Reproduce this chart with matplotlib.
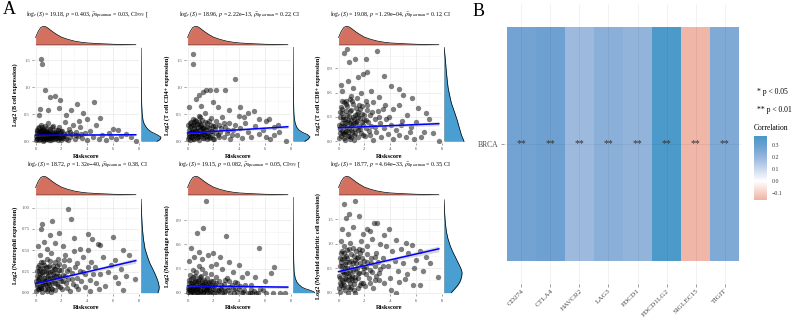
import numpy as np
import matplotlib
matplotlib.use("Agg")
import matplotlib.pyplot as plt
from matplotlib.colors import LinearSegmentedColormap, Normalize
from matplotlib.cm import ScalarMappable

plt.rcParams["font.family"] = ["Liberation Serif", "DejaVu Serif"]
plt.rcParams["mathtext.fontset"] = "stix"

# ---------------- panel A data ----------------
b_cell = [(0.44, 1.52), (0.49, 1.44), (0.70, 0.95), (1.14, 0.83), (1.47, 0.84), (1.91, 0.77), (1.81, 0.62),
          (0.36, 0.61), (1.00, 0.59), (3.20, 0.69), (4.49, 0.74), (2.76, 0.58), (0.23, 0.49), (2.37, 0.49),
          (3.66, 0.52), (4.95, 0.44), (4.00, 0.42), (3.35, 0.38), (6.37, 0.22), (7.75, 0.00), (7.00, 0.13),
          (5.70, 0.16), (6.00, 0.24), (7.40, 0.08),
          (0.03, 0.02), (0.08, 0.15), (0.12, 0.07), (0.18, 0.25), (0.22, 0.11), (0.27, 0.03), (0.31, 0.19),
          (0.36, 0.09), (0.40, 0.31), (0.44, 0.14), (0.48, 0.05), (0.53, 0.22), (0.57, 0.10), (0.61, 0.01),
          (0.65, 0.17), (0.70, 0.28), (0.73, 0.07), (0.78, 0.13), (0.83, 0.20), (0.87, 0.04), (0.92, 0.11),
          (0.96, 0.34), (1.01, 0.16), (1.05, 0.06), (1.10, 0.24), (1.15, 0.12), (1.20, 0.02), (1.26, 0.18),
          (1.31, 0.08), (1.37, 0.29), (1.42, 0.14), (1.49, 0.04), (1.55, 0.21), (1.61, 0.10), (1.68, 0.16),
          (1.75, 0.03), (1.82, 0.26), (1.90, 0.12), (1.98, 0.07), (2.06, 0.19), (2.15, 0.10), (2.24, 0.36),
          (2.33, 0.05), (2.43, 0.15), (2.55, 0.24), (2.66, 0.08), (2.78, 0.13), (2.90, 0.31), (3.02, 0.04),
          (3.15, 0.18), (3.30, 0.10), (3.46, 0.27), (3.62, 0.06), (3.80, 0.15), (4.00, 0.03), (4.20, 0.20),
          (4.42, 0.09), (4.65, 0.30), (4.90, 0.05), (5.15, 0.12), (5.45, 0.02), (5.80, 0.09), (6.20, 0.04),
          (6.60, 0.11), (0.15, 0.04), (0.25, 0.17), (0.33, 0.12), (0.46, 0.21), (0.55, 0.06), (0.63, 0.12),
          (0.68, 0.02), (0.76, 0.19), (0.85, 0.09), (0.94, 0.15), (1.03, 0.03), (1.12, 0.19), (1.23, 0.10),
          (1.33, 0.15), (1.45, 0.08), (1.58, 0.13), (1.72, 0.09), (1.86, 0.17), (2.00, 0.02), (2.20, 0.14),
          (0.10, 0.22), (0.50, 0.27), (0.90, 0.25), (1.25, 0.26), (1.70, 0.22)]
b_cell_core = [(0.06, 0.10), (0.14, 0.19), (0.24, 0.08), (0.29, 0.27), (0.38, 0.04), (0.42, 0.18), (0.52, 0.13),
               (0.60, 0.24), (0.71, 0.16), (0.80, 0.05), (0.89, 0.18), (0.99, 0.09), (1.07, 0.14), (1.17, 0.07),
               (1.28, 0.12), (1.36, 0.05), (1.47, 0.17), (1.57, 0.06), (1.66, 0.12), (1.80, 0.07), (1.94, 0.20),
               (2.10, 0.06), (2.28, 0.10), (2.50, 0.03), (2.70, 0.18), (3.10, 0.12), (3.55, 0.14)]

cd4 = [(0.44, 1.62), (0.39, 1.44), (3.69, 1.16), (1.42, 0.96), (1.73, 0.96), (1.21, 0.91), (0.90, 0.86),
       (2.19, 0.96), (2.86, 0.96), (0.65, 0.78), (1.94, 0.73), (0.13, 0.63), (1.03, 0.66), (2.32, 0.64),
       (3.23, 0.58), (4.05, 0.63), (4.65, 0.53), (5.10, 0.56), (3.95, 0.47), (4.40, 0.45), (5.55, 0.41),
       (6.06, 0.38), (6.28, 0.42), (6.72, 0.27), (6.72, 0.11), (7.10, 0.17), (7.63, 0.00), (6.08, 0.08),
       (0.03, 0.05), (0.08, 0.22), (0.12, 0.12), (0.17, 0.35), (0.21, 0.02), (0.26, 0.17), (0.30, 0.28),
       (0.35, 0.08), (0.39, 0.42), (0.43, 0.14), (0.47, 0.24), (0.52, 0.04), (0.56, 0.31), (0.60, 0.11),
       (0.64, 0.19), (0.69, 0.38), (0.73, 0.06), (0.78, 0.26), (0.82, 0.15), (0.87, 0.47), (0.91, 0.02),
       (0.96, 0.21), (1.00, 0.33), (1.05, 0.10), (1.10, 0.18), (1.15, 0.40), (1.20, 0.07), (1.26, 0.27),
       (1.31, 0.13), (1.37, 0.52), (1.42, 0.22), (1.48, 0.04), (1.54, 0.34), (1.60, 0.16), (1.67, 0.25),
       (1.74, 0.09), (1.81, 0.44), (1.89, 0.19), (1.97, 0.29), (2.05, 0.05), (2.14, 0.23), (2.23, 0.37),
       (2.33, 0.12), (2.43, 0.30), (2.54, 0.18), (2.66, 0.45), (2.78, 0.08), (2.90, 0.26), (3.03, 0.15),
       (3.17, 0.35), (3.32, 0.04), (3.48, 0.21), (3.65, 0.30), (3.83, 0.12), (4.02, 0.25), (4.22, 0.06),
       (4.44, 0.34), (4.68, 0.17), (4.93, 0.09), (5.20, 0.28), (5.50, 0.14), (5.85, 0.22), (6.40, 0.05),
       (7.00, 0.30), (0.10, 0.15), (0.20, 0.26), (0.32, 0.18), (0.45, 0.05), (0.58, 0.22), (0.66, 0.13),
       (0.75, 0.32), (0.84, 0.08), (0.93, 0.27), (1.08, 0.24), (1.18, 0.14), (1.29, 0.20), (1.40, 0.10),
       (1.52, 0.26), (1.65, 0.07), (1.78, 0.30), (1.92, 0.12), (2.10, 0.28), (0.50, 0.36), (1.00, 0.45)]
cd4_core = [(0.06, 0.30), (0.14, 0.08), (0.24, 0.10), (0.29, 0.36), (0.38, 0.20), (0.42, 0.30), (0.52, 0.16),
            (0.60, 0.40), (0.71, 0.20), (0.80, 0.10), (0.89, 0.36), (0.99, 0.14), (1.07, 0.30), (1.17, 0.24),
            (1.28, 0.06), (1.36, 0.36), (1.47, 0.16), (1.57, 0.10), (1.66, 0.38), (1.80, 0.20), (1.94, 0.04),
            (2.20, 0.16), (2.40, 0.08), (2.60, 0.24), (2.85, 0.34), (3.10, 0.22), (3.40, 0.12)]

cd8 = [(0.62, 1.14), (0.44, 1.09), (2.95, 1.12), (1.29, 1.01), (0.83, 0.98), (2.12, 1.02), (1.91, 0.83),
       (2.17, 0.86), (1.50, 0.79), (3.54, 0.80), (0.70, 0.74), (0.19, 0.69), (4.06, 0.68), (4.70, 0.65),
       (5.00, 0.57), (5.69, 0.54), (4.65, 0.45), (6.12, 0.41), (6.77, 0.35), (7.03, 0.27), (6.00, 0.24),
       (6.57, 0.12), (7.29, 0.10), (7.75, 0.00), (6.40, 0.05),
       (0.30, 0.62), (1.10, 0.66), (1.75, 0.60), (2.50, 0.62), (3.10, 0.55), (2.70, 0.48), (3.60, 0.45),
       (0.95, 0.56), (1.40, 0.53), (0.55, 0.50), (2.10, 0.50), (4.20, 0.40), (3.90, 0.30), (5.30, 0.33),
       (5.60, 0.18), (4.80, 0.20),
       (0.03, 0.04), (0.08, 0.30), (0.12, 0.15), (0.17, 0.42), (0.21, 0.07), (0.26, 0.23), (0.30, 0.35),
       (0.35, 0.10), (0.39, 0.48), (0.43, 0.19), (0.47, 0.28), (0.52, 0.02), (0.56, 0.38), (0.60, 0.13),
       (0.64, 0.24), (0.69, 0.44), (0.73, 0.06), (0.78, 0.31), (0.82, 0.17), (0.87, 0.52), (0.91, 0.03),
       (0.96, 0.26), (1.00, 0.39), (1.05, 0.12), (1.10, 0.21), (1.15, 0.46), (1.20, 0.08), (1.26, 0.33),
       (1.31, 0.15), (1.37, 0.41), (1.42, 0.25), (1.48, 0.05), (1.54, 0.36), (1.60, 0.19), (1.67, 0.29),
       (1.74, 0.10), (1.81, 0.43), (1.89, 0.20), (1.97, 0.33), (2.05, 0.06), (2.14, 0.26), (2.23, 0.39),
       (2.33, 0.13), (2.43, 0.32), (2.54, 0.19), (2.66, 0.02), (2.78, 0.28), (2.90, 0.12), (3.03, 0.37),
       (3.17, 0.22), (3.32, 0.05), (3.48, 0.17), (3.65, 0.27), (3.83, 0.09), (4.02, 0.20), (4.22, 0.03),
       (4.44, 0.14), (4.68, 0.08), (4.93, 0.25), (5.20, 0.05), (5.50, 0.11), (5.85, 0.03),
       (0.10, 0.10), (0.20, 0.19), (0.33, 0.27), (0.45, 0.09), (0.58, 0.18), (0.67, 0.33), (0.76, 0.12),
       (0.85, 0.22), (0.94, 0.14), (1.08, 0.30), (1.18, 0.02), (1.29, 0.22), (1.40, 0.34), (1.52, 0.14),
       (1.65, 0.40), (1.78, 0.24), (1.92, 0.08), (2.10, 0.17), (0.50, 0.12), (1.00, 0.05), (2.30, 0.24),
       (0.25, 0.40)]
cd8_core = [(0.06, 0.20), (0.14, 0.36), (0.24, 0.13), (0.29, 0.50), (0.38, 0.30), (0.42, 0.04), (0.52, 0.22),
            (0.60, 0.46), (0.71, 0.26), (0.80, 0.07), (0.89, 0.38), (0.99, 0.20), (1.07, 0.50), (1.17, 0.28),
            (1.28, 0.10), (1.36, 0.24), (1.47, 0.30), (1.57, 0.45), (1.66, 0.15), (1.80, 0.34), (1.94, 0.26),
            (2.20, 0.45), (2.40, 0.08), (2.60, 0.36), (2.85, 0.18), (3.10, 0.30), (3.40, 0.40)]

neutrophil = [(2.50, 0.99), (2.77, 0.87), (1.29, 0.84), (0.49, 0.81), (0.44, 0.75), (1.09, 0.68), (1.81, 0.70),
              (4.06, 0.69), (3.00, 0.64), (5.99, 0.65), (4.40, 0.63), (4.83, 0.57), (4.96, 0.56), (4.05, 0.50),
              (2.95, 0.49), (6.77, 0.50), (7.23, 0.45), (6.12, 0.39), (7.67, 0.16), (6.12, 0.19), (5.60, 0.25),
              (6.38, 0.12), (6.77, 0.03),
              (0.20, 0.55), (0.65, 0.60), (0.90, 0.52), (1.50, 0.58), (1.20, 0.47), (2.10, 0.55), (2.30, 0.44),
              (3.40, 0.52), (3.70, 0.42), (2.60, 0.38), (3.20, 0.35), (4.30, 0.36), (4.60, 0.30), (5.20, 0.42),
              (5.00, 0.22), (5.80, 0.33), (5.40, 0.08), (4.20, 0.15), (3.80, 0.22), (6.60, 0.28), (7.00, 0.20),
              (0.35, 0.45), (1.70, 0.40),
              (0.03, 0.02), (0.08, 0.20), (0.12, 0.10), (0.17, 0.30), (0.21, 0.05), (0.26, 0.16), (0.30, 0.26),
              (0.35, 0.07), (0.39, 0.36), (0.43, 0.13), (0.47, 0.21), (0.52, 0.01), (0.56, 0.29), (0.60, 0.10),
              (0.64, 0.18), (0.69, 0.33), (0.73, 0.04), (0.78, 0.24), (0.82, 0.14), (0.87, 0.40), (0.91, 0.02),
              (0.96, 0.20), (1.00, 0.30), (1.05, 0.09), (1.10, 0.17), (1.15, 0.37), (1.20, 0.06), (1.26, 0.26),
              (1.31, 0.12), (1.37, 0.32), (1.42, 0.20), (1.48, 0.03), (1.54, 0.28), (1.60, 0.15), (1.67, 0.23),
              (1.74, 0.08), (1.81, 0.34), (1.89, 0.17), (1.97, 0.27), (2.05, 0.05), (2.14, 0.21), (2.23, 0.31),
              (2.33, 0.11), (2.43, 0.26), (2.54, 0.16), (2.66, 0.02), (2.78, 0.23), (2.90, 0.10), (3.03, 0.30),
              (3.17, 0.18), (3.32, 0.04), (3.48, 0.14), (3.65, 0.24), (3.83, 0.07), (4.02, 0.30), (4.22, 0.02),
              (4.44, 0.22), (4.68, 0.12), (4.93, 0.05),
              (0.10, 0.08), (0.20, 0.15), (0.33, 0.22), (0.45, 0.06), (0.58, 0.15), (0.67, 0.26), (0.76, 0.10),
              (0.85, 0.19), (0.94, 0.12), (1.08, 0.25), (1.18, 0.01), (1.29, 0.18), (1.40, 0.28), (1.52, 0.12),
              (1.65, 0.32), (1.78, 0.20), (1.92, 0.07), (2.10, 0.14), (0.50, 0.10), (1.00, 0.04), (2.30, 0.20),
              (0.25, 0.33)]
neutrophil_core = [(0.06, 0.14), (0.14, 0.26), (0.24, 0.04), (0.29, 0.19), (0.38, 0.28), (0.42, 0.06),
                   (0.52, 0.25), (0.60, 0.36), (0.71, 0.14), (0.80, 0.30), (0.89, 0.08), (0.99, 0.24),
                   (1.07, 0.32), (1.17, 0.14), (1.28, 0.04), (1.36, 0.22), (1.47, 0.36), (1.57, 0.20),
                   (1.66, 0.10), (1.80, 0.27), (1.94, 0.14), (2.20, 0.38), (2.40, 0.06), (2.60, 0.28),
                   (2.85, 0.16), (3.10, 0.08), (3.40, 0.26)]

macrophage = [(1.43, 1.14), (1.22, 0.81), (0.70, 0.74), (2.98, 0.70), (5.50, 0.55), (0.30, 0.56), (0.90, 0.51),
              (1.94, 0.49), (2.50, 0.44), (3.20, 0.38), (3.98, 0.35), (4.56, 0.25), (5.20, 0.19), (5.97, 0.15),
              (6.72, 0.32), (6.46, 0.24), (6.08, 0.00), (6.59, 0.00), (7.16, 0.00), (7.57, 0.00),
              (0.50, 0.45), (1.10, 0.42), (1.60, 0.47), (0.15, 0.40), (2.20, 0.36), (1.80, 0.33), (2.70, 0.30),
              (3.50, 0.26), (4.20, 0.20), (4.90, 0.10), (5.60, 0.05), (3.80, 0.12), (2.90, 0.16), (4.40, 0.03),
              (5.00, 0.00), (5.30, 0.00), (5.80, 0.03),
              (0.03, 0.01), (0.08, 0.12), (0.12, 0.04), (0.17, 0.22), (0.21, 0.00), (0.26, 0.08), (0.30, 0.17),
              (0.35, 0.02), (0.39, 0.28), (0.43, 0.06), (0.47, 0.13), (0.52, 0.00), (0.56, 0.21), (0.60, 0.05),
              (0.64, 0.10), (0.69, 0.26), (0.73, 0.01), (0.78, 0.15), (0.82, 0.07), (0.87, 0.33), (0.91, 0.00),
              (0.96, 0.12), (1.00, 0.20), (1.05, 0.03), (1.10, 0.09), (1.15, 0.29), (1.20, 0.01), (1.26, 0.16),
              (1.31, 0.05), (1.37, 0.24), (1.42, 0.11), (1.48, 0.00), (1.54, 0.18), (1.60, 0.07), (1.67, 0.13),
              (1.74, 0.02), (1.81, 0.23), (1.89, 0.08), (1.97, 0.15), (2.05, 0.00), (2.14, 0.10), (2.23, 0.19),
              (2.33, 0.03), (2.43, 0.14), (2.54, 0.06), (2.66, 0.00), (2.78, 0.11), (2.90, 0.02), (3.03, 0.18),
              (3.17, 0.07), (3.32, 0.00), (3.48, 0.05), (3.65, 0.13), (3.83, 0.01), (4.02, 0.08), (4.22, 0.00),
              (4.44, 0.10), (4.68, 0.00), (4.93, 0.04), (0.10, 0.03), (0.20, 0.07), (0.33, 0.11), (0.45, 0.00),
              (0.58, 0.03), (0.67, 0.14), (0.76, 0.04), (0.85, 0.09), (0.94, 0.02), (1.08, 0.14), (1.18, 0.00),
              (1.29, 0.08), (1.40, 0.03), (1.52, 0.06), (1.65, 0.00), (1.78, 0.10), (1.92, 0.01), (2.10, 0.05),
              (2.30, 0.00), (2.60, 0.04), (2.85, 0.00), (3.10, 0.03), (3.40, 0.10), (3.60, 0.00), (3.95, 0.04),
              (4.30, 0.01), (4.80, 0.00), (5.10, 0.02), (5.45, 0.00)]
macrophage_core = [(0.06, 0.06), (0.14, 0.16), (0.24, 0.02), (0.29, 0.12), (0.38, 0.05), (0.42, 0.20),
                   (0.52, 0.08), (0.60, 0.15), (0.71, 0.06), (0.80, 0.00), (0.89, 0.17), (0.99, 0.06),
                   (1.07, 0.21), (1.17, 0.10), (1.28, 0.02), (1.36, 0.13), (1.47, 0.05), (1.57, 0.12),
                   (1.66, 0.04), (1.80, 0.15), (1.94, 0.05), (2.20, 0.12), (2.40, 0.02), (2.60, 0.09),
                   (2.85, 0.06), (3.20, 0.14), (3.70, 0.06)]

myeloid_dc = [(0.44, 1.82), (1.29, 1.88), (0.83, 1.60), (0.60, 1.53), (1.60, 1.56), (2.77, 1.42), (3.00, 1.43),
              (2.20, 1.30), (2.40, 1.25), (4.45, 1.08), (5.22, 1.01), (5.70, 0.98), (3.50, 1.18), (3.90, 1.30),
              (6.77, 0.73), (6.00, 0.67), (7.67, 0.33), (6.26, 0.16), (5.74, 0.16), (4.70, 0.22), (5.30, 0.39),
              (4.06, 0.05), (4.45, 0.00),
              (1.10, 1.35), (1.90, 1.20), (0.30, 1.30), (2.60, 1.10), (3.20, 1.00), (3.70, 0.95), (4.10, 0.85),
              (4.80, 0.90), (5.40, 0.80), (6.30, 0.85), (4.40, 0.65), (5.00, 0.60), (5.80, 0.50), (3.40, 0.70),
              (2.90, 0.80), (3.80, 0.55), (4.60, 0.45), (2.50, 0.60), (3.10, 0.40), (4.00, 0.30), (5.10, 0.28),
              (6.50, 0.45), (7.10, 0.60), (3.50, 0.20), (2.80, 0.25), (2.20, 0.95), (1.70, 1.05), (0.70, 1.20),
              (0.20, 1.05),
              (0.03, 0.10), (0.08, 0.55), (0.12, 0.30), (0.17, 0.80), (0.21, 0.15), (0.26, 0.45), (0.30, 0.68),
              (0.35, 0.22), (0.39, 0.95), (0.43, 0.38), (0.47, 0.58), (0.52, 0.05), (0.56, 0.75), (0.60, 0.28),
              (0.64, 0.50), (0.69, 0.88), (0.73, 0.12), (0.78, 0.62), (0.82, 0.35), (0.87, 1.02), (0.91, 0.08),
              (0.96, 0.52), (1.00, 0.78), (1.05, 0.25), (1.10, 0.44), (1.15, 0.92), (1.20, 0.18), (1.26, 0.66),
              (1.31, 0.33), (1.37, 0.85), (1.42, 0.50), (1.48, 0.10), (1.54, 0.72), (1.60, 0.40), (1.67, 0.60),
              (1.74, 0.20), (1.81, 0.88), (1.89, 0.42), (1.97, 0.65), (2.05, 0.14), (2.14, 0.52), (2.23, 0.78),
              (2.33, 0.30), (2.43, 0.46), (2.54, 0.70), (2.66, 0.10), (2.78, 0.55), (2.90, 0.35), (3.03, 0.62),
              (3.17, 0.48),
              (0.10, 0.20), (0.20, 0.62), (0.33, 0.42), (0.45, 0.15), (0.58, 0.40), (0.67, 0.70), (0.76, 0.25),
              (0.85, 0.45), (0.94, 0.30), (1.08, 0.60), (1.18, 0.05), (1.29, 0.48), (1.40, 0.70), (1.52, 0.30),
              (1.65, 0.82), (1.78, 0.55), (1.92, 0.20), (2.10, 0.38), (0.50, 0.30), (1.00, 0.12), (0.25, 0.85),
              (0.15, 0.02), (0.70, 0.00), (1.30, 0.00), (0.40, 0.70)]
myeloid_dc_core = [(0.06, 0.35), (0.14, 0.70), (0.24, 0.25), (0.29, 0.55), (0.38, 0.12), (0.42, 0.82),
                   (0.52, 0.50), (0.60, 0.62), (0.71, 0.40), (0.80, 0.90), (0.89, 0.20), (0.99, 0.65),
                   (1.07, 0.35), (1.17, 0.75), (1.28, 0.25), (1.36, 0.60), (1.47, 0.40), (1.57, 0.90),
                   (1.66, 0.15), (1.80, 0.70), (1.94, 0.50), (2.20, 0.62), (2.40, 0.20), (2.60, 0.42),
                   (2.85, 0.72), (3.10, 0.25), (3.40, 0.55)]

# marginal density of Riskscore (same in every panel), relative height
risk_grid = [0.0, 0.2, 0.4, 0.6, 0.8, 1.0, 1.3, 1.6, 2.0, 2.5, 3.0, 3.5, 4.0, 5.0, 6.0, 7.0, 7.75]
risk_dens = [0.40, 0.72, 0.93, 1.00, 0.97, 0.88, 0.72, 0.58, 0.42, 0.30, 0.21, 0.15, 0.11, 0.07, 0.04, 0.02, 0.01]

# marginal densities of each expression, relative height
b_grid = [0.0, 0.03, 0.07, 0.11, 0.16, 0.20, 0.24, 0.29, 0.35, 0.45, 0.6, 0.8, 1.0, 1.3, 1.55]
b_dens = [0.8, 0.95, 1.0, 0.8, 0.5, 0.35, 0.25, 0.16, 0.1, 0.06, 0.035, 0.02, 0.012, 0.006, 0.0]
cd4_grid = [0.0, 0.04, 0.08, 0.12, 0.16, 0.2, 0.25, 0.32, 0.4, 0.5, 0.7, 1.0, 1.3, 1.66]
cd4_dens = [0.7, 0.9, 1.0, 0.85, 0.55, 0.35, 0.22, 0.13, 0.08, 0.05, 0.03, 0.015, 0.008, 0.0]
cd8_grid = [0.0, 0.03, 0.07, 0.12, 0.18, 0.26, 0.35, 0.47, 0.58, 0.67, 0.78, 0.88, 1.0, 1.1, 1.16]
cd8_dens = [1.0, 0.95, 0.88, 0.82, 0.75, 0.66, 0.54, 0.37, 0.27, 0.2, 0.15, 0.11, 0.07, 0.03, 0.0]
neu_grid = [0.0, 0.03, 0.06, 0.11, 0.16, 0.21, 0.26, 0.31, 0.36, 0.42, 0.47, 0.58, 0.7, 0.85, 1.0]
neu_dens = [0.93, 0.98, 1.0, 0.95, 0.86, 0.75, 0.63, 0.5, 0.4, 0.3, 0.22, 0.13, 0.07, 0.03, 0.0]
mac_grid = [0.0, 0.015, 0.03, 0.05, 0.07, 0.1, 0.13, 0.18, 0.26, 0.4, 0.6, 0.9, 1.19]
mac_dens = [1.0, 0.92, 0.78, 0.55, 0.4, 0.27, 0.18, 0.1, 0.05, 0.03, 0.015, 0.006, 0.0]
mdc_grid = [0.0, 0.08, 0.15, 0.22, 0.29, 0.36, 0.42, 0.5, 0.63, 0.75, 0.83, 0.95, 1.1, 1.25, 1.44, 1.65, 1.9]
mdc_dens = [0.4, 0.6, 0.76, 0.88, 0.95, 0.99, 1.0, 0.93, 0.76, 0.6, 0.49, 0.35, 0.22, 0.13, 0.07, 0.03, 0.0]
dens_scale = [0.91, 0.77, 0.91, 0.83, 1.0, 0.82]

# fitted line (intercept, slope) and CI half-width at x = 0, 1.5, 7.75
fit_lines = [(0.115, 0.0013), (0.155, 0.015), (0.167, 0.0065), (0.107, 0.035), (0.085, -0.002), (0.43, 0.06)]
ci_x = [0.0, 1.5, 7.75]
ci_half = [[0.012, 0.006, 0.02], [0.015, 0.008, 0.03], [0.012, 0.007, 0.025],
           [0.012, 0.006, 0.03], [0.01, 0.005, 0.02], [0.025, 0.012, 0.06]]

ylabels = ["Log2 (B cell expression)", "Log2 (T cell CD4+ expression)", "Log2 (T cell CD8+ expression)",
           "Log2 (Neutrophil expression)", "Log2 (Macrophage expression)",
           "Log2 (Myeloid dendritic cell expression)"]
titles = [r"$\log_{e}(S)$ = 19.18, $p$ = 0.403, $\widehat{\rho}_{\rm Spearman}$ = 0.03, CI$_{95\%}$ [",
          r"$\log_{e}(S)$ = 18.96, $p$ = 2.22e$-$13, $\widehat{\rho}_{\rm Spearman}$ = 0.22, CI",
          r"$\log_{e}(S)$ = 19.08, $p$ = 1.29e$-$04, $\widehat{\rho}_{\rm Spearman}$ = 0.12, CI",
          r"$\log_{e}(S)$ = 18.72, $p$ = 1.32e$-$40, $\widehat{\rho}_{\rm Spearman}$ = 0.38, CI",
          r"$\log_{e}(S)$ = 19.15, $p$ = 0.082, $\widehat{\rho}_{\rm Spearman}$ = 0.05, CI$_{95\%}$ [",
          r"$\log_{e}(S)$ = 18.77, $p$ = 4.64e$-$33, $\widehat{\rho}_{\rm Spearman}$ = 0.35, CI"]
yticks = [[0.0, 0.5, 1.0, 1.5], [0.0, 0.5, 1.0, 1.5], [0.0, 0.3, 0.6, 0.9],
          [0.0, 0.25, 0.5, 0.75, 1.0], [0.0, 0.3, 0.6, 0.9], [0.0, 0.5, 1.0, 1.5]]
ytick_fmt = ["%.1f", "%.1f", "%.1f", "%.2f", "%.1f", "%.1f"]
ylims = [(-0.028, 1.57), (-0.03, 1.666), (-0.021, 1.164), (-0.018, 1.026), (-0.021, 1.19), (-0.035, 1.953)]
xticks = [0, 2, 4, 6, 8]

# ---------------- panel B data ----------------
genes = ["CD274", "CTLA4", "HAVCR2", "LAG3", "PDCD1", "PDCD1LG2", "SIGLEC15", "TIGIT"]
corr = [0.28, 0.29, 0.19, 0.23, 0.21, 0.37, -0.15, 0.25]
stars = ["**", "**", "**", "**", "**", "**", "**", "**"]
cancer = "BRCA"

W, H = 792, 320
fig = plt.figure(figsize=(W / 100, H / 100), dpi=100)


def box(l, t, w, h):
    return [l / W, 1 - (t + h) / H, w / W, h / H]


red = "#d4705f"
blue = "#4a9fd2"
grid_c = "#e8e8e8"

panels = [b_cell + b_cell_core, cd4 + cd4_core, cd8 + cd8_core,
          neutrophil + neutrophil_core, macrophage + macrophage_core, myeloid_dc + myeloid_dc_core]
grids = [b_grid, cd4_grid, cd8_grid, neu_grid, mac_grid, mdc_grid]
denss = [b_dens, cd4_dens, cd8_dens, neu_dens, mac_dens, mdc_dens]
lefts = [34, 186, 337]
tops = [47, 197]
heights = [96, 97.4]
pw = 105

for i in range(6):
    r, c = divmod(i, 3)
    L, T, PH = lefts[c], tops[r], heights[r]
    pts = np.array(panels[i])
    ax = fig.add_axes(box(L, T, pw, PH))
    ax.set_xlim(-0.12, 8.0)
    ax.set_ylim(*ylims[i])
    ax.set_xticks(xticks)
    ax.set_xticks([1, 3, 5, 7], minor=True)
    yt = yticks[i]
    ax.set_yticks(yt)
    ax.set_yticks([(a + b) / 2 for a, b in zip(yt[:-1], yt[1:])] + [yt[-1] + (yt[1] - yt[0]) / 2], minor=True)
    ax.set_yticklabels([ytick_fmt[i] % v for v in yt])
    ax.grid(True, which="major", color=grid_c, lw=0.5)
    ax.grid(True, which="minor", color="#f3f3f3", lw=0.4)
    ax.set_axisbelow(True)
    for s in ax.spines.values():
        s.set_visible(False)
    ax.tick_params(which="major", length=1.5, width=0.4, color="#555555", labelsize=3.3,
                   labelcolor="#555555", pad=1.5)
    ax.tick_params(which="minor", length=0)
    ax.scatter(pts[:, 0], pts[:, 1], s=15, c="black", alpha=0.5, linewidths=0, zorder=2)
    a, b = fit_lines[i]
    cx = np.array(ci_x)
    cy = a + b * cx
    hw = np.array(ci_half[i])
    ax.fill_between(cx, cy - hw, cy + hw, color="#b0b0b0", alpha=0.5, lw=0, zorder=3)
    ax.plot(cx, cy, color="#0000ff", lw=1.1, zorder=4)
    fig.text((L - 19) / W, 1 - (T + PH / 2) / H, ylabels[i], rotation=90, ha="center", va="center",
             fontsize=4.4, fontweight="bold")
    fig.text((L + pw / 2) / W, 1 - (T + PH + 13) / H, "Riskscore", ha="center", va="center",
             fontsize=4.6, fontweight="bold")
    fig.text((L + pw / 2 + 1) / W, 1 - (T - 32) / H, titles[i], ha="center", va="center", fontsize=4.2)

    # top marginal density
    axt = fig.add_axes(box(L, T - 23, pw, 21))
    axt.set_xlim(-0.12, 8.0)
    axt.set_ylim(0, 1.12)
    axt.fill_between(risk_grid, risk_dens, color=red, lw=0)
    axt.plot(risk_grid, risk_dens, color="black", lw=0.5)
    axt.plot([risk_grid[0], risk_grid[-1]], [0, 0], color="black", lw=0.3)
    axt.axis("off")

    # right marginal density
    axr = fig.add_axes(box(L + 107, T, 22, PH))
    axr.set_ylim(*ylims[i])
    axr.set_xlim(0, 1.0)
    dx = np.array(denss[i]) * dens_scale[i]
    axr.fill_betweenx(grids[i], 0, dx, color=blue, lw=0)
    axr.plot(dx, grids[i], color="black", lw=0.5)
    axr.plot([0, 0], [grids[i][0], grids[i][-1]], color="black", lw=0.3)
    axr.axis("off")

fig.text(9 / W, 1 - 10 / H, "A", fontsize=13, ha="center", va="center")
fig.text(479 / W, 1 - 11 / H, "B", fontsize=13, ha="center", va="center")

# ---------------- panel B heatmap ----------------
vmin, vmax = -0.16, 0.38
cmap = LinearSegmentedColormap.from_list(
    "corr", [(0.0, "#efb2a2"), (0.16 / 0.54, "#ffffff"), (0.26 / 0.54, "#cbd9ee"),
             (0.36 / 0.54, "#97b6dc"), (0.46 / 0.54, "#6a9fd0"), (1.0, "#4899c9")])
norm = Normalize(vmin, vmax)

axh = fig.add_axes(box(504, 4, 238, 280))
xs = np.arange(1, len(genes) + 1)
axh.bar(xs, 1.0, bottom=0.5, width=1.0, color=cmap(norm(np.array(corr))), lw=0, zorder=1)
for x in xs:
    axh.axvline(x, color="#000000", alpha=0.07, lw=0.5, zorder=2)
axh.axhline(1.0, color="#000000", alpha=0.07, lw=0.5, zorder=2)
for x, s in zip(xs, stars):
    axh.text(x, 1.0, s, ha="center", va="center", fontsize=7, color="#333333", zorder=3)
axh.set_xlim(0.4, 8.6)
axh.set_ylim(0.4, 1.6)
axh.set_xticks(xs)
axh.set_xticklabels(genes, rotation=45, ha="right", va="top", rotation_mode="anchor")
axh.set_yticks([1.0])
axh.set_yticklabels([cancer])
for s in axh.spines.values():
    s.set_visible(False)
axh.tick_params(axis="y", length=2, width=0.4, color="#555555", labelsize=5.5, labelcolor="#4d4d4d", pad=2)
axh.tick_params(axis="x", length=2, width=0.4, color="#555555", labelsize=5.2, labelcolor="#4d4d4d", pad=1)

fig.text(757 / W, 1 - 92 / H, "* p < 0.05", fontsize=5.5, ha="left", va="center")
fig.text(757 / W, 1 - 110 / H, "** p < 0.01", fontsize=5.5, ha="left", va="center")
fig.text(754 / W, 1 - 128 / H, "Correlation", fontsize=5.5, ha="left", va="center")

cax = fig.add_axes(box(754, 136, 13, 64))
sm = ScalarMappable(norm=norm, cmap=cmap)
cb = fig.colorbar(sm, cax=cax, ticks=[-0.1, 0.0, 0.1, 0.2, 0.3])
cb.outline.set_visible(False)
cb.ax.set_yticklabels(["\u22120.1", "0.0", "0.1", "0.2", "0.3"])
cb.ax.tick_params(labelsize=4.2, length=2, width=0.4, color="white", pad=1.5, labelcolor="#333333")

fig.savefig("out.png", dpi=100)
